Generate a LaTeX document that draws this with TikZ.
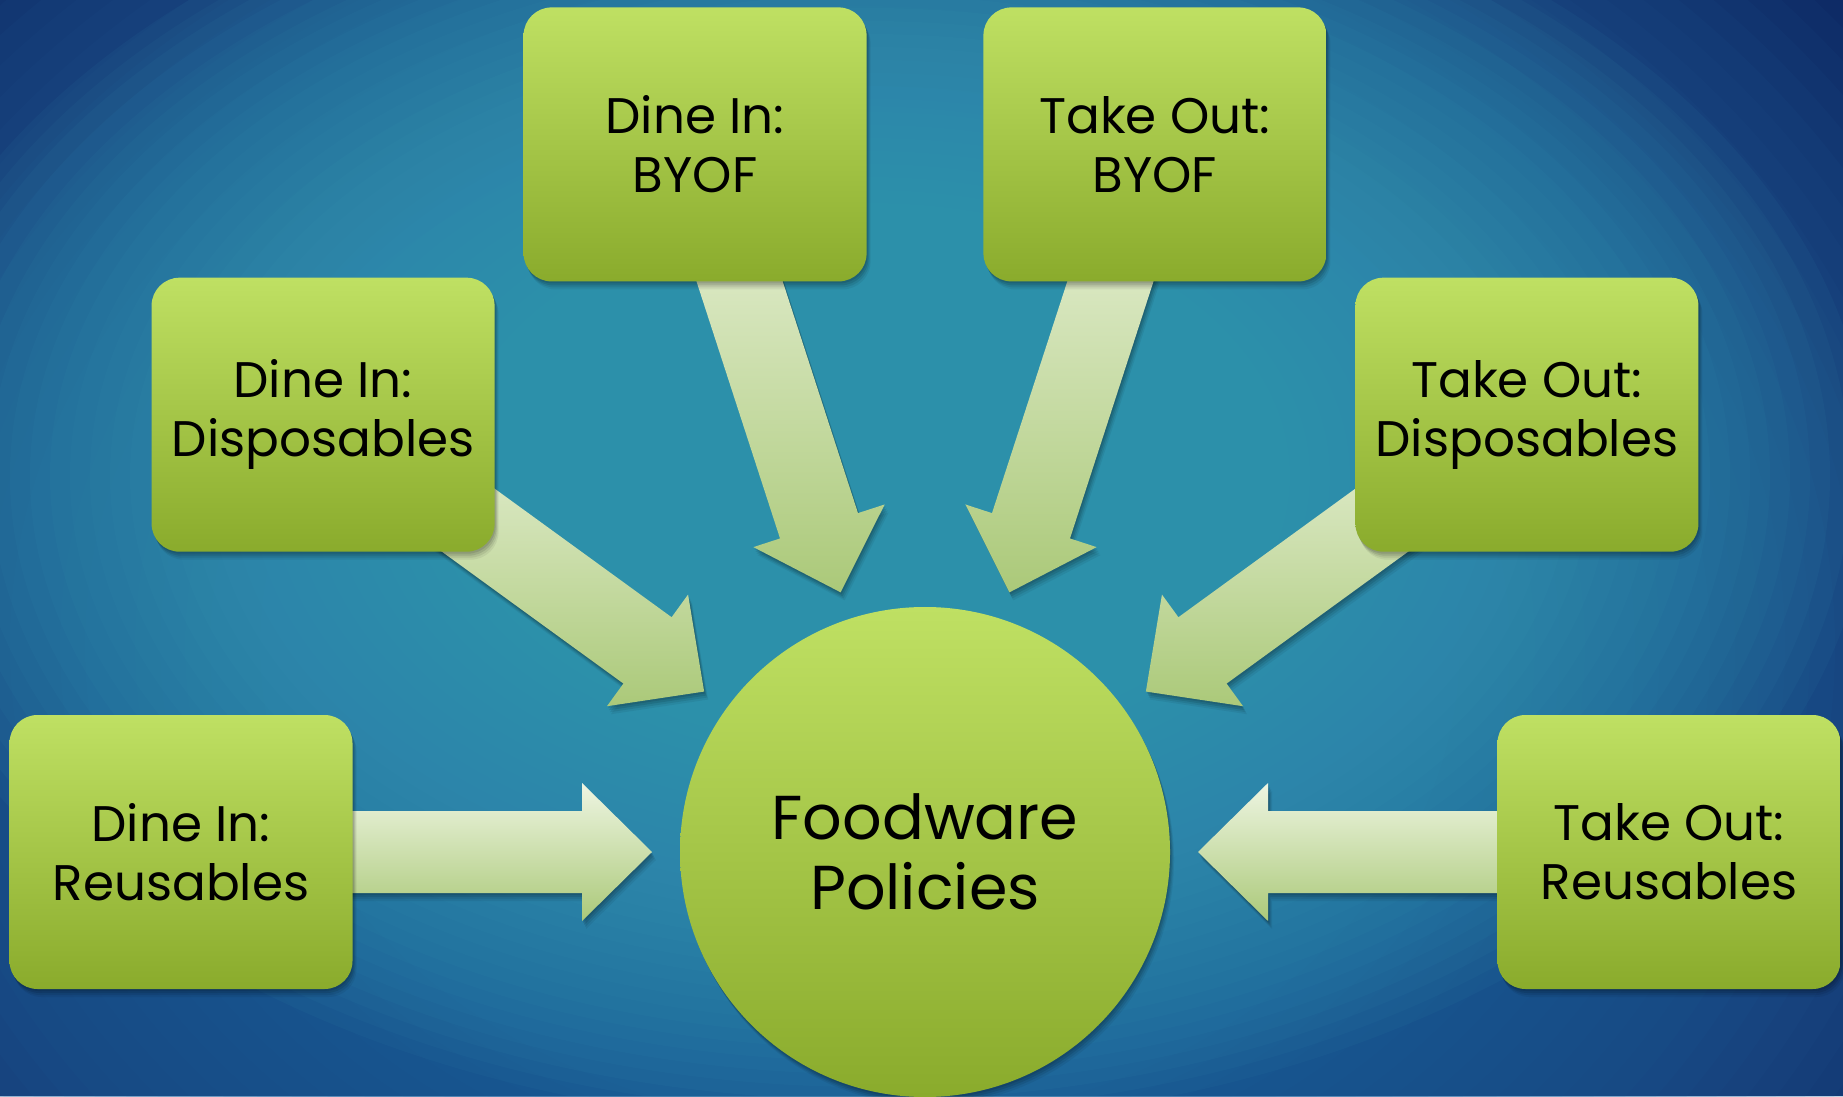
\documentclass[tikz,border=0pt]{standalone}
\usepackage{fontspec}
\setmainfont{Poppins}
\usetikzlibrary{calc}
\definecolor{bgIn}{HTML}{3A9EB8}
\definecolor{bgMid}{HTML}{2566A0}
\definecolor{bgOut}{HTML}{0E2B66}
\definecolor{boxtop}{HTML}{BFE063}
\definecolor{boxbot}{HTML}{8AAB2C}
\definecolor{arrtop}{HTML}{EEF5E2}
\definecolor{arrbot}{HTML}{ABC979}
\pgfdeclarelayer{bglayer}
\pgfdeclarelayer{arrowlayer}
\pgfsetlayers{bglayer,arrowlayer,main}
\tikzset{
  softshadow/.style={
    preaction={fill=black, opacity=0.10, transform canvas={xshift=1pt, yshift=-2pt}},
    preaction={fill=black, opacity=0.10, transform canvas={xshift=2pt, yshift=-4pt}},
    preaction={fill=black, opacity=0.08, transform canvas={xshift=3pt, yshift=-6pt}},
    preaction={fill=black, opacity=0.06, transform canvas={xshift=4pt, yshift=-8pt}}},
  box/.style={rectangle, rounded corners=28pt, minimum width=343pt, minimum height=274pt,
    inner sep=0pt, softshadow, top color=boxtop, bottom color=boxbot, draw=none, align=center,
    font=\fontsize{50}{59}\selectfont, text=black},
  hub/.style={circle, minimum size=490pt, inner sep=0pt, softshadow, top color=boxtop, bottom color=boxbot,
    draw=none, align=center, font=\fontsize{62}{70}\selectfont, text=black},
  arrowfill/.style={softshadow, top color=arrtop, bottom color=arrbot, draw=none},
  glowmid/.style={fill=bgMid, fill opacity=0.066, draw=none},
  glowin/.style={fill=bgIn, fill opacity=0.066, draw=none}
}
\begin{document}
\begin{tikzpicture}[x=1pt,y=1pt]
\useasboundingbox (0,0) rectangle (1843,1096);
\begin{pgfonlayer}{bglayer}
  \fill[bgOut] (0,0) rectangle (1843,1096);
  \foreach \k in {50,49,...,1}{
    \fill[glowmid] (860,450) ellipse [x radius={25*\k}, y radius={20*\k}];
  }
  \foreach \k in {50,49,...,1}{
    \fill[glowin] (870,620) ellipse [x radius={20*\k}, y radius={13*\k}];
  }
\end{pgfonlayer}

\node[hub] (fp) at (925,244) {Foodware\\Policies};

\node[box] (dr) at ($(fp.center)+(180:744)$) {Dine In:\\Reusables};
\node[box] (dd) at ($(fp.center)+(144:744)$) {Dine In:\\Disposables};
\node[box] (db) at ($(fp.center)+(108:744)$) {Dine In:\\BYOF};
\node[box] (tb) at ($(fp.center)+(72:744)$) {Take Out:\\BYOF};
\node[box] (td) at ($(fp.center)+(36:744)$) {Take Out:\\Disposables};
\node[box] (tr) at ($(fp.center)+(0:744)$) {Take Out:\\Reusables};

\begin{pgfonlayer}{arrowlayer}
\foreach \b in {dr,dd,db,tb,td,tr}{
  \coordinate (T) at ($(fp.center)!273pt!(\b.center)$);
  \coordinate (H) at ($(fp.center)!343pt!(\b.center)$);
  \shade[arrowfill] ($(\b.center)!41pt!-90:(fp.center)$)
     -- ($(H)!41pt!90:(\b.center)$)
     -- ($(H)!69pt!90:(\b.center)$)
     -- (T)
     -- ($(H)!69pt!-90:(\b.center)$)
     -- ($(H)!41pt!-90:(\b.center)$)
     -- ($(\b.center)!41pt!90:(fp.center)$) -- cycle;
}
\end{pgfonlayer}
\end{tikzpicture}
\end{document}
